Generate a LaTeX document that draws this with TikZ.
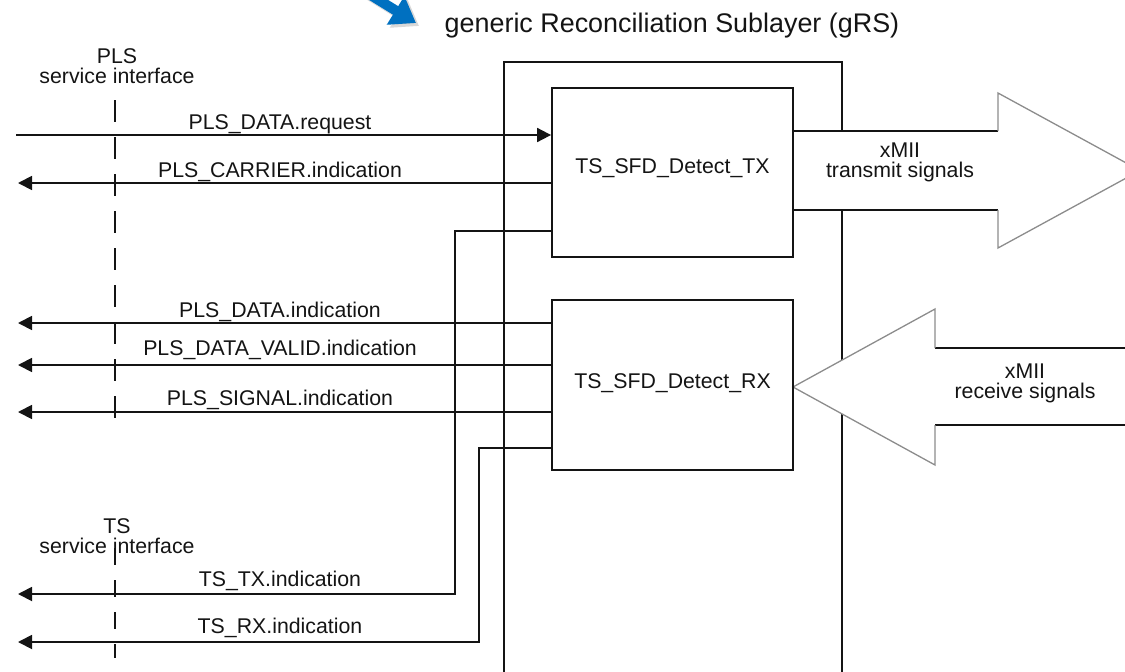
\documentclass[tikz,border=0pt]{standalone}
\usepackage{fontspec}
\setmainfont{Liberation Sans}
\usetikzlibrary{arrows.meta}
\definecolor{ink}{RGB}{20,20,20}
\definecolor{headgray}{RGB}{140,140,140}
\definecolor{msblue}{RGB}{0,112,192}
\begin{document}
\begin{tikzpicture}[x=1pt,y=-1pt,
  wire/.style={draw=ink,line width=1.8pt},
  outto/.style={wire,-{Triangle[length=14pt,width=14pt]}},
  into/.style={wire,-{Triangle[length=14pt,width=14pt]}},
  headline/.style={draw=headgray,line width=1.3pt,line join=miter},
  iface/.style={draw=ink,line width=1.6pt},
  blk/.style={draw=ink,line width=1.8pt,minimum width=241pt,inner sep=0pt,
    font=\fontsize{21.3}{20}\selectfont,text=ink},
  lbl/.style={anchor=base,inner sep=0pt,font=\fontsize{21.3}{20}\selectfont,text=ink},
  mlbl/.style={lbl,align=center},
]
\useasboundingbox (0,0) rectangle (1125,672);
\clip (0,0) rectangle (1125,672);

% blue pointer arrow with shadow
\draw[line width=10pt,black!30,opacity=0.5,-{Triangle[length=24pt,width=32pt]}] (346,-19) -- (419,26);
\draw[line width=10pt,msblue,-{Triangle[length=24pt,width=32pt]}] (343,-22) -- (416,23);

% title
\node[anchor=base,inner sep=0pt,font=\fontsize{26.9}{30}\selectfont,text=ink] (title) at (672,32) {generic Reconciliation Sublayer (gRS)};

% gRS outer frame (open at the bottom)
\draw[wire] (504,672) -- (504,62) -- (842,62) -- (842,672);

% xMII transmit arrow
\fill[white] (793,131) -- (998,131) -- (998,93) -- (1140,170.5) -- (998,248) -- (998,210) -- (793,210) -- cycle;
\draw[wire] (793,131) -- (998,131);
\draw[wire] (793,210) -- (998,210);
\draw[headline] (998,131) -- (998,93) -- (1140,170.5) -- (998,248) -- (998,210);
\node[mlbl] (xtx) at (900,177) {xMII\\transmit signals};

% xMII receive arrow
\fill[white] (1130,348) -- (935,348) -- (935,309) -- (793,387) -- (935,465) -- (935,425) -- (1130,425) -- cycle;
\draw[wire] (935,348) -- (1130,348);
\draw[wire] (935,425) -- (1130,425);
\draw[headline] (935,348) -- (935,309) -- (793,387) -- (935,465) -- (935,425);
\node[mlbl] (xrx) at (1025,398) {xMII\\receive signals};

% function blocks
\node[blk,minimum height=169pt,text height=10pt,text depth=9pt] (tx) at (672.5,172.5) {TS\_SFD\_Detect\_TX};
\node[blk,minimum height=170pt,text height=12pt,text depth=6pt] (rx) at (672.5,385) {TS\_SFD\_Detect\_RX};

% service interfaces
\node[mlbl] (plsif) at (117,83) {PLS\\service interface};
\node[mlbl] (tsif) at (117,553) {TS\\service interface};
\coordinate (plsTop) at (115,100);
\coordinate (plsBot) at (115,432);
\coordinate (tsTop) at (115,548);
\coordinate (tsBot) at (115,658);
\draw[iface,dash pattern=on 22pt off 15pt] (plsTop) -- (plsBot);
\draw[iface,dash pattern=on 17pt off 15pt] (tsTop) -- (tsBot);

% PLS primitives
\coordinate (reqL) at (16,135);
\coordinate (carL) at (18,183);
\coordinate (datL) at (18,323);
\coordinate (valL) at (18,365);
\coordinate (sigL) at (18,412);
\coordinate (ttxL) at (18,594);
\coordinate (trxL) at (18,642);

\draw[into] (reqL) -- (tx.west |- reqL);
\draw[outto] (tx.west |- carL) -- (carL);
\draw[outto] (rx.west |- datL) -- (datL);
\draw[outto] (rx.west |- valL) -- (valL);
\draw[outto] (rx.west |- sigL) -- (sigL);

% TS primitives
\coordinate (txo) at (552,231);
\coordinate (rxo) at (552,448);
\draw[outto] (txo) -| (455,594) -- (ttxL);
\draw[outto] (rxo) -| (479,642) -- (trxL);

% primitive labels
\node[lbl] (lreq) at (280,129) {PLS\_DATA.request};
\node[lbl] (lcar) at (280,177) {PLS\_CARRIER.indication};
\node[lbl] (ldat) at (280,317) {PLS\_DATA.indication};
\node[lbl] (lval) at (280,355) {PLS\_DATA\_VALID.indication};
\node[lbl] (lsig) at (280,405) {PLS\_SIGNAL.indication};
\node[lbl] (lttx) at (280,586) {TS\_TX.indication};
\node[lbl] (ltrx) at (280,633) {TS\_RX.indication};
\end{tikzpicture}
\end{document}
